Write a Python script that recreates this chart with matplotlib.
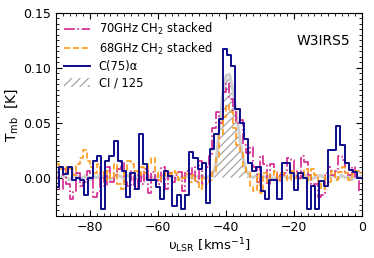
import matplotlib.pyplot as plt
import numpy as np
from matplotlib.ticker import MultipleLocator

# C(75)alpha spectrum, channel width ~1.235 km/s starting at -90.35 km/s
rrl_v0 = -90.35
rrl_dv = 1.235
rrl_t = [
    -0.009, 0.010, 0.003, 0.010, -0.002, 0.000, -0.002, -0.016, 0.000, 0.015,
    0.020, -0.029, 0.015, 0.020, 0.033, 0.015, 0.006, -0.018, 0.004, -0.010,
    0.040, 0.012, -0.002, -0.002, -0.009, -0.020, 0.006, 0.001, -0.026, -0.016,
    -0.029, -0.016, 0.023, 0.018, 0.008, 0.013, -0.023, 0.026, 0.040, 0.053,
    0.117, 0.112, 0.102, 0.062, 0.050, 0.035, 0.013, 0.006, 0.010, -0.012,
    -0.020, -0.002, -0.002, -0.020, 0.013, 0.013, 0.004, -0.011, 0.004, 0.000,
    -0.029, -0.008, -0.029, -0.003, -0.008, 0.025, 0.025, 0.047, 0.030, 0.013,
    0.007, 0.005, 0.000, 0.000,
]

# stacked CH2 spectra, 1 km/s channels from -90 km/s
ch2_v0 = -90.0
ch2_dv = 1.0
ch2_70 = [
    0.000, -0.010, 0.008, -0.006, -0.020, -0.012, 0.004, -0.008, -0.004, 0.006,
    0.000, -0.018, -0.014, 0.004, -0.008, 0.010, -0.004, 0.002, 0.008, 0.014,
    -0.004, -0.008, 0.006, -0.010, 0.004, -0.006, 0.008, -0.014, 0.005, -0.002,
    -0.006, 0.010, -0.010, 0.004, -0.004, 0.002, 0.005, -0.012, 0.006, 0.003,
    0.010, -0.004, 0.015, -0.006, 0.010, 0.020, 0.045, 0.060, 0.050, 0.078,
    0.086, 0.072, 0.060, 0.050, 0.052, 0.030, 0.022, 0.028, 0.010, -0.004,
    0.020, 0.012, -0.006, 0.012, 0.005, -0.004, 0.002, 0.004, 0.018, 0.016,
    0.006, 0.000, 0.020, 0.014, 0.002, -0.008, -0.006, -0.018, -0.016, 0.004,
    0.010, 0.002, 0.006, 0.020, 0.016, 0.004, 0.002, 0.010, 0.000, -0.012,
]
ch2_68 = [
    0.012, 0.008, 0.005, 0.010, 0.008, 0.002, 0.012, 0.018, 0.025, 0.015,
    0.010, 0.004, 0.012, 0.005, -0.002, 0.006, 0.000, 0.012, -0.006, -0.010,
    0.004, 0.015, 0.012, 0.006, 0.002, 0.010, 0.004, 0.012, 0.018, 0.006,
    -0.002, 0.002, 0.004, 0.003, 0.006, 0.004, -0.002, 0.000, 0.003, -0.004,
    0.002, -0.003, -0.010, 0.000, -0.006, -0.002, 0.005, 0.018, 0.040, 0.055,
    0.066, 0.060, 0.045, 0.030, 0.022, 0.010, 0.005, -0.008, -0.012, 0.003,
    -0.014, 0.004, -0.004, 0.002, 0.006, -0.002, 0.004, 0.002, -0.002, 0.006,
    0.000, 0.004, 0.002, 0.008, -0.003, 0.008, 0.002, -0.004, -0.010, 0.002,
    -0.004, 0.006, -0.002, 0.005, 0.010, 0.004, -0.002, 0.003, 0.006, 0.004,
]

# CI / 125, sampled every 1 km/s from -90 to 0
ci_v = np.arange(-90, 1, 1.0)
ci_t = [
    0.001, -0.001, 0.002, 0.000, -0.002, 0.001, 0.002, -0.001, 0.000, 0.002,
    -0.002, 0.001, 0.000, 0.002, -0.001, 0.001, -0.002, 0.000, 0.002, 0.001,
    -0.001, 0.002, 0.000, -0.002, 0.001, 0.002, -0.001, 0.000, 0.001, -0.002,
    0.002, 0.000, 0.001, -0.001, 0.002, 0.000, -0.002, 0.001, 0.000, 0.002,
    -0.001, 0.001, 0.000, 0.002, -0.001, 0.001, 0.002, 0.012, 0.045, 0.075,
    0.093, 0.094, 0.080, 0.060, 0.036, 0.018, 0.006, 0.001, 0.000, 0.002,
    -0.001, 0.001, 0.000, 0.002, -0.002, 0.001, 0.000, 0.002, -0.001, 0.001,
    0.002, 0.000, -0.001, 0.002, 0.001, -0.002, 0.000, 0.001, 0.002, -0.001,
    0.000, 0.002, 0.001, -0.001, 0.002, 0.000, 0.001, -0.002, 0.001, 0.000,
    0.001,
]


def step_xy(v0, dv, vals):
    edges = v0 + dv * np.arange(len(vals) + 1)
    return edges, np.append(vals, vals[-1])


fig = plt.figure(figsize=(3.74, 2.58), dpi=100)
ax = fig.add_axes([0.150, 0.163, 0.818, 0.787])

plt.rcParams["hatch.color"] = "#9a9a9a"
plt.rcParams["hatch.linewidth"] = 0.8
ax.fill_between(ci_v, 0, ci_t, facecolor="white", edgecolor="#9a9a9a",
                hatch="////", linewidth=0, label="CI / 125")
ax.plot(ci_v, ci_t, color="#cfcfcf", lw=2.2, zorder=1)

x, y = step_xy(ch2_v0, ch2_dv, ch2_70)
ax.step(x, y, where="post", color="#d4228f", ls="-.", lw=1.2,
        label="70GHz CH$_2$ stacked")
x, y = step_xy(ch2_v0, ch2_dv, ch2_68)
ax.step(x, y, where="post", color="#ff9a1a", ls="--", lw=1.2,
        label="68GHz CH$_2$ stacked")
x, y = step_xy(rrl_v0, rrl_dv, rrl_t)
ax.step(x, y, where="post", color="#0c0c8c", lw=1.4, label="C(75)α")

ax.set_xlim(-90, 0)
ax.set_ylim(-0.035, 0.15)
ax.xaxis.set_major_locator(MultipleLocator(20))
ax.xaxis.set_minor_locator(MultipleLocator(2))
ax.yaxis.set_major_locator(MultipleLocator(0.05))
ax.yaxis.set_minor_locator(MultipleLocator(0.005))
ax.tick_params(which="both", direction="in", top=True, right=True, labelsize=9)
ax.tick_params(which="major", length=4)
ax.tick_params(which="minor", length=2)

ax.set_xlabel("υ$_{\\rm LSR}$ [kms$^{-1}$]", fontsize=9.5, labelpad=2)
ax.set_ylabel(r"T$_{\rm mb}$  [K]", fontsize=10, labelpad=2)
ax.text(0.96, 0.86, "W3IRS5", transform=ax.transAxes, ha="right",
        va="center", fontsize=10)

handles, labels = ax.get_legend_handles_labels()
order = [labels.index(l) for l in
         ["70GHz CH$_2$ stacked", "68GHz CH$_2$ stacked", "C(75)α", "CI / 125"]]
ax.legend([handles[i] for i in order], [labels[i] for i in order],
          loc="upper left", frameon=False, fontsize=8.3, handlelength=2.2,
          borderaxespad=0.3, labelspacing=0.3)

fig.savefig("out.png", dpi=100, facecolor="white")
